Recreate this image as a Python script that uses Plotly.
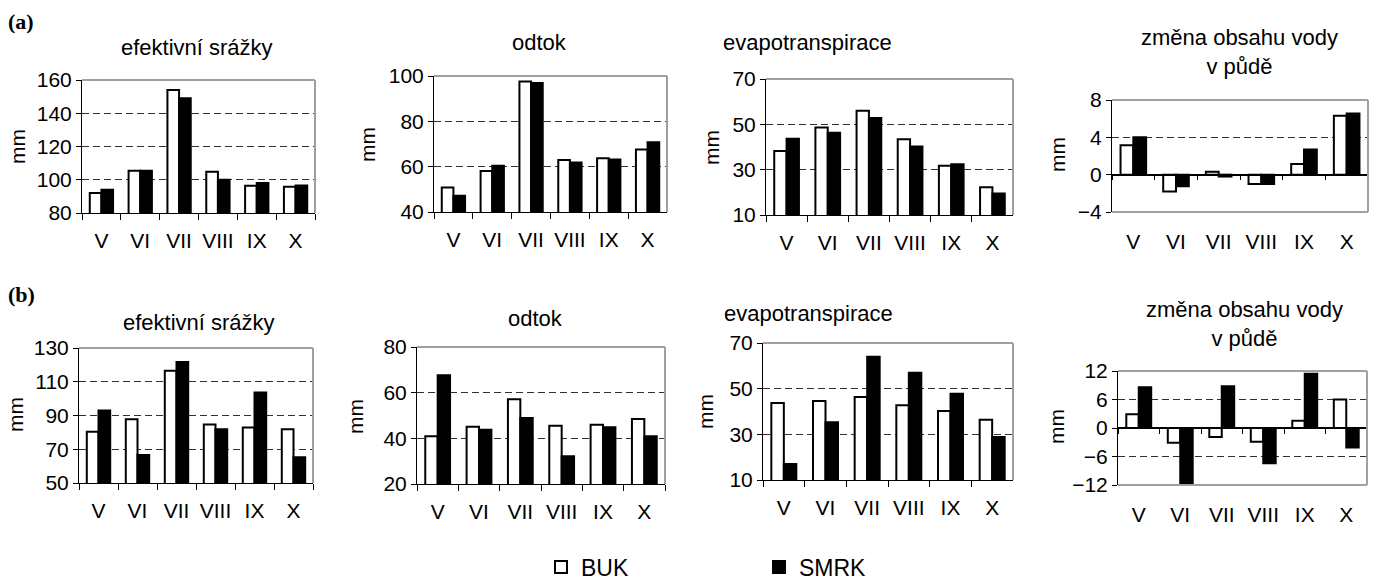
import plotly.graph_objects as go

W, H = 1375, 580

months = ["V", "VI", "VII", "VIII", "IX", "X"]

# (a)
a_srazky_buk = [92, 105.4, 154, 104.8, 96.4, 95.8]
a_srazky_smrk = [94, 105.4, 149, 100, 98, 96.6]
a_odtok_buk = [50.8, 58.1, 97.6, 62.9, 63.7, 67.6]
a_odtok_smrk = [47.2, 60.4, 96.9, 61.8, 63.2, 70.8]
a_evap_buk = [38.2, 48.6, 56.0, 43.4, 31.7, 22.2]
a_evap_smrk = [43.6, 46.3, 52.8, 40.2, 32.4, 19.5]
a_voda_buk = [3.15, -1.8, 0.3, -1.0, 1.15, 6.3]
a_voda_smrk = [4.0, -1.25, -0.2, -1.0, 2.7, 6.55]

# (b)
b_srazky_buk = [80.3, 87.8, 116.5, 84.7, 82.9, 81.9]
b_srazky_smrk = [93.0, 66.6, 121.7, 81.9, 103.7, 65.2]
b_odtok_buk = [40.9, 45.1, 57.1, 45.5, 46.0, 48.5]
b_odtok_smrk = [67.6, 43.8, 48.9, 32.1, 44.8, 40.9]
b_evap_buk = [43.7, 44.6, 46.4, 42.7, 40.2, 36.4]
b_evap_smrk = [17.0, 35.3, 64.0, 57.0, 47.8, 28.8]
b_voda_buk = [2.9, -3.1, -1.9, -2.9, 1.5, 6.0]
b_voda_smrk = [8.6, -12.4, 8.8, -7.4, 11.4, -4.1]

title_srazky = "efektivní srážky"
title_odtok = "odtok"
title_evap = "evapotranspirace"
title_voda = "změna obsahu vody<br>v půdě"
unit = "mm"
series_names = ["BUK", "SMRK"]

FONT = "Liberation Sans, Arial, sans-serif"
FS = 21
FT = 22

panels = [
    dict(buk=a_srazky_buk, smrk=a_srazky_smrk, rng=[80, 160], dt=20, px=(82, 315), py=(80, 213),
         title=title_srazky, tx=197, ty=47, mx=17, my=147),
    dict(buk=a_odtok_buk, smrk=a_odtok_smrk, rng=[40, 100], dt=20, px=(434, 667), py=(76, 212),
         title=title_odtok, tx=539, ty=43, mx=367, my=145),
    dict(buk=a_evap_buk, smrk=a_evap_smrk, rng=[10, 70], dt=20, px=(766, 1013), py=(79, 215),
         title=title_evap, tx=807, ty=43, mx=711, my=147),
    dict(buk=a_voda_buk, smrk=a_voda_smrk, rng=[-4, 8], dt=4, px=(1112, 1368), py=(100, 212),
         title=title_voda, tx=1239, ty=52, mx=1058, my=155, zero=True),
    dict(buk=b_srazky_buk, smrk=b_srazky_smrk, rng=[50, 130], dt=20, px=(79, 313), py=(348, 483),
         title=title_srazky, tx=199, ty=322, mx=15, my=415),
    dict(buk=b_odtok_buk, smrk=b_odtok_smrk, rng=[20, 80], dt=20, px=(417, 665), py=(347, 484),
         title=title_odtok, tx=535, ty=318, mx=355, my=417),
    dict(buk=b_evap_buk, smrk=b_evap_smrk, rng=[10, 70], dt=20, px=(763, 1013), py=(343, 480),
         title=title_evap, tx=808, ty=313, mx=705, my=412),
    dict(buk=b_voda_buk, smrk=b_voda_smrk, rng=[-12, 12], dt=6, px=(1118, 1367), py=(371, 485),
         title=title_voda, tx=1244, ty=324, mx=1056, my=427, zero=True),
]

fig = go.Figure()
annotations = []
shapes = []
BORDER = "#a0a0a0"
extra_axis = 9

for i, p in enumerate(panels, start=1):
    xs = "x" if i == 1 else f"x{i}"
    ys = "y" if i == 1 else f"y{i}"
    xk = "xaxis" if i == 1 else f"xaxis{i}"
    yk = "yaxis" if i == 1 else f"yaxis{i}"
    fig.add_trace(go.Bar(x=months, y=p["buk"], name=series_names[0], xaxis=xs, yaxis=ys,
                         marker=dict(color="white", line=dict(color="black", width=2)),
                         showlegend=(i == 1), legendgroup="buk"))
    fig.add_trace(go.Bar(x=months, y=p["smrk"], name=series_names[1], xaxis=xs, yaxis=ys,
                         marker=dict(color="black", line=dict(color="black", width=2)),
                         showlegend=(i == 1), legendgroup="smrk"))
    xd = [p["px"][0] / W, p["px"][1] / W]
    yd = [1 - p["py"][1] / H, 1 - p["py"][0] / H]
    zero = p.get("zero", False)
    fig.layout[xk] = dict(
        domain=xd, anchor=ys, type="category", range=[-0.5, 5.5],
        showline=not zero, linecolor="black", linewidth=1,
        ticks="" if zero else "outside", tickson="boundaries", ticklen=6, tickcolor="black",
        ticklabelstandoff=15 if zero else 9, tickangle=0,
        tickfont=dict(family=FONT, size=FS, color="black"), showgrid=False, fixedrange=True,
    )
    fig.layout[yk] = dict(
        domain=yd, anchor=xs, range=p["rng"], tick0=p["rng"][0], dtick=p["dt"],
        showline=True, linecolor="black", linewidth=1, ticks="outside", ticklen=5,
        tickcolor="black", tickfont=dict(family=FONT, size=FS, color="black"),
        showgrid=True, gridcolor="#303030", gridwidth=1, griddash="7px,4px",
        zeroline=zero, zerolinecolor="black", zerolinewidth=1, fixedrange=True,
    )
    # gray frame: top and right (and bottom for panels with zero line)
    shapes.append(dict(type="line", xref=f"{xs} domain", yref=f"{ys} domain", x0=0, x1=1, y0=1, y1=1,
                       line=dict(color=BORDER, width=2), layer="above"))
    shapes.append(dict(type="line", xref=f"{xs} domain", yref=f"{ys} domain", x0=1, x1=1, y0=0, y1=1,
                       line=dict(color=BORDER, width=2), layer="above"))
    if zero:
        shapes.append(dict(type="line", xref=f"{xs} domain", yref=f"{ys} domain", x0=0, x1=1, y0=0, y1=0,
                           line=dict(color=BORDER, width=2), layer="above"))
        # overlay axis at value 0 with tick marks at category boundaries
        lo, hi = p["rng"]
        pos = yd[0] + (0 - lo) / (hi - lo) * (yd[1] - yd[0])
        oxs = f"x{extra_axis}"
        fig.add_trace(go.Scatter(x=months, y=[0] * len(months), xaxis=oxs, yaxis=ys, mode="markers",
                                 marker=dict(opacity=0), showlegend=False, hoverinfo="skip"))
        fig.layout[f"xaxis{extra_axis}"] = dict(
            overlaying=xs, anchor="free", position=pos, type="category", range=[-0.5, 5.5],
            showline=True, linecolor="black", linewidth=1.5, ticks="outside", tickson="boundaries",
            ticklen=5, tickcolor="black", showticklabels=False, showgrid=False, fixedrange=True,
        )
        extra_axis += 1
    annotations.append(dict(text=p["title"], x=p["tx"] / W, y=1 - p["ty"] / H, xref="paper", yref="paper",
                            showarrow=False, xanchor="center", yanchor="middle",
                            font=dict(family=FONT, size=FT, color="black")))
    annotations.append(dict(text=unit, x=p["mx"] / W, y=1 - p["my"] / H, xref="paper", yref="paper",
                            showarrow=False, textangle=-90, xanchor="center", yanchor="middle",
                            font=dict(family=FONT, size=FS, color="black")))

for lbl, yy in [("(a)", 22), ("(b)", 294)]:
    annotations.append(dict(text=f"<b>{lbl}</b>", x=6 / W, y=1 - yy / H, xref="paper", yref="paper",
                            showarrow=False, xanchor="left", yanchor="middle",
                            font=dict(family="Liberation Serif, DejaVu Serif, serif", size=22, color="black")))

fig.update_layout(
    width=W, height=H, margin=dict(l=0, r=0, t=0, b=0, autoexpand=False),
    paper_bgcolor="white", plot_bgcolor="white",
    barmode="group", bargap=0.4, bargroupgap=0,
    annotations=annotations, shapes=shapes,
    legend=dict(orientation="h", x=541 / W, y=1 - 567 / H, xanchor="left", yanchor="middle",
                entrywidth=173, font=dict(family=FONT, size=23, color="black"),
                bgcolor="rgba(0,0,0,0)", itemclick=False, itemdoubleclick=False),
    font=dict(family=FONT, size=FS, color="black"),
)

fig.write_html("out.html", config={"displayModeBar": False},
               post_script="document.body.style.margin='0';document.body.style.overflow='hidden';")
